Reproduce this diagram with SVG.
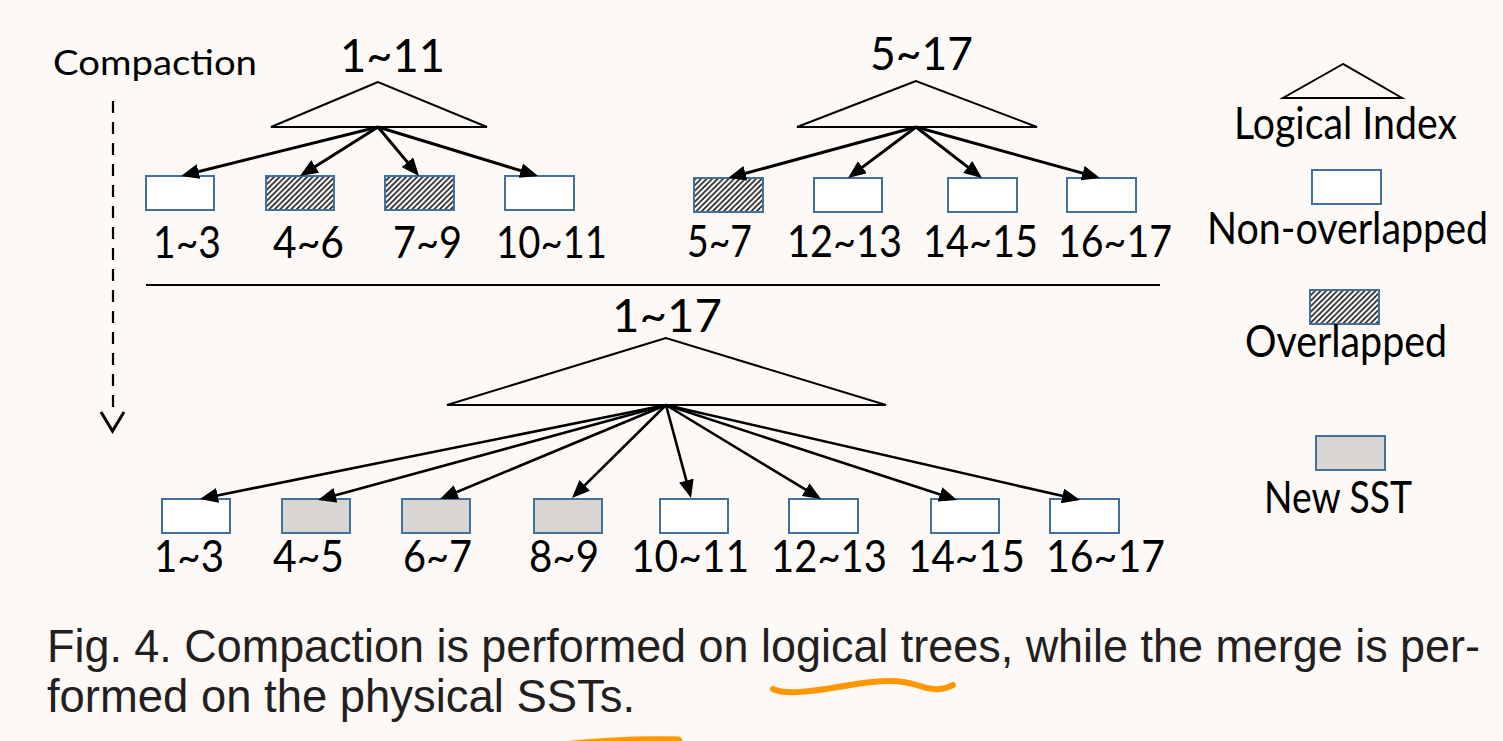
<svg xmlns="http://www.w3.org/2000/svg" width="1503" height="741" viewBox="0 0 1503 741">
<style>
.lbl{font-family:Lato,"Open Sans","Liberation Sans",sans-serif;font-size:44px;fill:#000;text-anchor:middle}
.root{font-family:Lato,"Open Sans","Liberation Sans",sans-serif;font-size:46px;fill:#000;text-anchor:middle}
.leg{font-family:Lato,"Open Sans","Liberation Sans",sans-serif;font-size:44px;fill:#000;text-anchor:middle}
.cap{font-family:"Liberation Sans",Arial,sans-serif;font-size:46px;fill:#231f20}
.tri{fill:none;stroke:#000;stroke-width:2;stroke-linejoin:miter}
.sst{stroke:#41719c;stroke-width:2}
.plain{fill:#fff}
.hatch{fill:url(#hatch)}
.new{fill:#d8d5d2}
.arr{stroke:#000;fill:none;marker-end:url(#ah)}
.top{stroke-width:3}
.bot{stroke-width:2.6}
.hl{stroke:#ff9800;fill:none;stroke-linecap:round;stroke-linejoin:round}
</style>
<defs>
<pattern id="hatch" patternUnits="userSpaceOnUse" width="5.5" height="5.5">
<rect width="5.5" height="5.5" fill="#fff"/>
<path d="M-1,6.5 L6.5,-1 M-1,1 L1,-1 M4.5,6.5 L6.5,4.5" stroke="#111" stroke-width="1.5"/>
</pattern>
<marker id="ah" markerUnits="userSpaceOnUse" markerWidth="18" markerHeight="15" refX="14" refY="7.5" orient="auto">
<path d="M0,0 L18,7.5 L0,15 z" fill="#000"/>
</marker>
</defs>
<rect width="1503" height="741" fill="#fdf9f7"/>

<g id="compaction-label">
<text class="lbl" x="155" y="75" style="font-size:34px" textLength="204" lengthAdjust="spacingAndGlyphs">Compaction</text>
<line x1="113" y1="101" x2="113" y2="414" stroke="#000" stroke-width="2.2" stroke-dasharray="12 9"/>
<polyline points="101,412 112.5,431 124,412" fill="none" stroke="#000" stroke-width="3"/>
</g>

<g id="tree-1-11">
<text class="root" x="392.5" y="72" textLength="105" lengthAdjust="spacingAndGlyphs">1~11</text>
<polygon class="tri" points="378,82 271,127 487,127"/>
</g>
<g id="sst-1-3a"><rect class="sst plain" x="146" y="176" width="68" height="34"/><text class="lbl" x="187" y="258" textLength="68" lengthAdjust="spacingAndGlyphs">1~3</text></g>
<g id="sst-4-6"><rect class="sst hatch" x="266" y="176" width="68" height="34"/><text class="lbl" x="308.5" y="258" textLength="71" lengthAdjust="spacingAndGlyphs">4~6</text></g>
<g id="sst-7-9"><rect class="sst hatch" x="385" y="176" width="69" height="34"/><text class="lbl" x="427.5" y="258" textLength="69" lengthAdjust="spacingAndGlyphs">7~9</text></g>
<g id="sst-10-11a"><rect class="sst plain" x="505" y="176" width="69" height="34"/><text class="lbl" x="551.5" y="258" textLength="111" lengthAdjust="spacingAndGlyphs">10~11</text></g>

<g id="tree-5-17">
<text class="root" x="921.5" y="70" textLength="103" lengthAdjust="spacingAndGlyphs">5~17</text>
<polygon class="tri" points="916,81 797,127 1037,127"/>
</g>
<g id="sst-5-7"><rect class="sst hatch" x="694" y="178" width="69" height="34"/><text class="lbl" x="719.5" y="257" textLength="65" lengthAdjust="spacingAndGlyphs">5~7</text></g>
<g id="sst-12-13a"><rect class="sst plain" x="814" y="178" width="68" height="34"/><text class="lbl" x="844.5" y="257" textLength="115" lengthAdjust="spacingAndGlyphs">12~13</text></g>
<g id="sst-14-15a"><rect class="sst plain" x="948" y="178" width="69" height="34"/><text class="lbl" x="980.5" y="257" textLength="115" lengthAdjust="spacingAndGlyphs">14~15</text></g>
<g id="sst-16-17a"><rect class="sst plain" x="1067" y="178" width="69" height="34"/><text class="lbl" x="1115" y="257" textLength="114" lengthAdjust="spacingAndGlyphs">16~17</text></g>

<line id="divider" x1="146" y1="285" x2="1160" y2="285" stroke="#000" stroke-width="2"/>

<g id="tree-1-17">
<text class="root" x="667" y="332" textLength="110" lengthAdjust="spacingAndGlyphs">1~17</text>
<polygon class="tri" points="666,338 447,405 886,405"/>
</g>
<g id="sst-1-3b"><rect class="sst plain" x="162" y="499" width="68" height="34"/><text class="lbl" x="189" y="572" textLength="70" lengthAdjust="spacingAndGlyphs">1~3</text></g>
<g id="sst-4-5"><rect class="sst new" x="282" y="499" width="68" height="34"/><text class="lbl" x="308.5" y="572" textLength="71" lengthAdjust="spacingAndGlyphs">4~5</text></g>
<g id="sst-6-7"><rect class="sst new" x="402" y="499" width="68" height="34"/><text class="lbl" x="437.5" y="572" textLength="69" lengthAdjust="spacingAndGlyphs">6~7</text></g>
<g id="sst-8-9"><rect class="sst new" x="534" y="499" width="68" height="34"/><text class="lbl" x="564" y="572" textLength="70" lengthAdjust="spacingAndGlyphs">8~9</text></g>
<g id="sst-10-11b"><rect class="sst plain" x="660" y="499" width="68" height="34"/><text class="lbl" x="690" y="572" textLength="118" lengthAdjust="spacingAndGlyphs">10~11</text></g>
<g id="sst-12-13b"><rect class="sst plain" x="789" y="499" width="69" height="34"/><text class="lbl" x="829" y="572" textLength="116" lengthAdjust="spacingAndGlyphs">12~13</text></g>
<g id="sst-14-15b"><rect class="sst plain" x="931" y="499" width="68" height="34"/><text class="lbl" x="966.5" y="572" textLength="117" lengthAdjust="spacingAndGlyphs">14~15</text></g>
<g id="sst-16-17b"><rect class="sst plain" x="1050" y="499" width="69" height="34"/><text class="lbl" x="1105.5" y="572" textLength="119" lengthAdjust="spacingAndGlyphs">16~17</text></g>

<g id="connectors">
<line class="arr top" x1="378" y1="127" x2="184.9" y2="175"/>
<line class="arr top" x1="378" y1="127" x2="303.4" y2="173.9"/>
<line class="arr top" x1="378" y1="127" x2="416.4" y2="172.9"/>
<line class="arr top" x1="378" y1="127" x2="534.2" y2="174.8"/>
<line class="arr top" x1="916" y1="127" x2="731.9" y2="177"/>
<line class="arr top" x1="916" y1="127" x2="851.2" y2="175.6"/>
<line class="arr top" x1="916" y1="127" x2="978.8" y2="175.6"/>
<line class="arr top" x1="916" y1="127" x2="1096.1" y2="176.9"/>
<line class="arr bot" x1="666" y1="405" x2="203.9" y2="498.2"/>
<line class="arr bot" x1="666" y1="405" x2="321.9" y2="499"/>
<line class="arr bot" x1="666" y1="405" x2="443.7" y2="497.5"/>
<line class="arr bot" x1="666" y1="405" x2="574.8" y2="495.2"/>
<line class="arr bot" x1="666" y1="405" x2="690" y2="494.1"/>
<line class="arr bot" x1="666" y1="405" x2="817.6" y2="496.9"/>
<line class="arr bot" x1="666" y1="405" x2="953.2" y2="498.8"/>
<line class="arr bot" x1="666" y1="405" x2="1076.1" y2="499.1"/>
</g>

<g id="legend-logical-index">
<polygon class="tri" points="1343,64 1283,98 1402,98"/>
<text class="leg" x="1345.5" y="139" textLength="223" lengthAdjust="spacingAndGlyphs">Logical Index</text>
</g>
<g id="legend-non-overlapped">
<rect class="sst plain" x="1312" y="170" width="69" height="34"/>
<text class="leg" x="1347.5" y="244" textLength="281" lengthAdjust="spacingAndGlyphs">Non-overlapped</text>
</g>
<g id="legend-overlapped">
<rect class="sst hatch" x="1310" y="290" width="69" height="34"/>
<text class="leg" x="1346" y="357" textLength="202" lengthAdjust="spacingAndGlyphs">Overlapped</text>
</g>
<g id="legend-new-sst">
<rect class="sst new" x="1316" y="436" width="69" height="34"/>
<text class="leg" x="1338" y="513" textLength="148" lengthAdjust="spacingAndGlyphs">New SST</text>
</g>

<g id="caption">
<text class="cap" x="47" y="662" textLength="1433" lengthAdjust="spacingAndGlyphs">Fig. 4. Compaction is performed on logical trees, while the merge is per-</text>
<text class="cap" x="47" y="712" textLength="588" lengthAdjust="spacingAndGlyphs">formed on the physical SSTs.</text>
</g>

<g id="annotations">
<path class="hl" stroke-width="6" d="M773,689 C785,695 810,692 850,685 C880,680 900,679 920,686 C935,692 945,689 953,685"/>
<path class="hl" stroke-width="9" d="M562,746 C600,742 640,740 678,741"/>
</g>
</svg>
